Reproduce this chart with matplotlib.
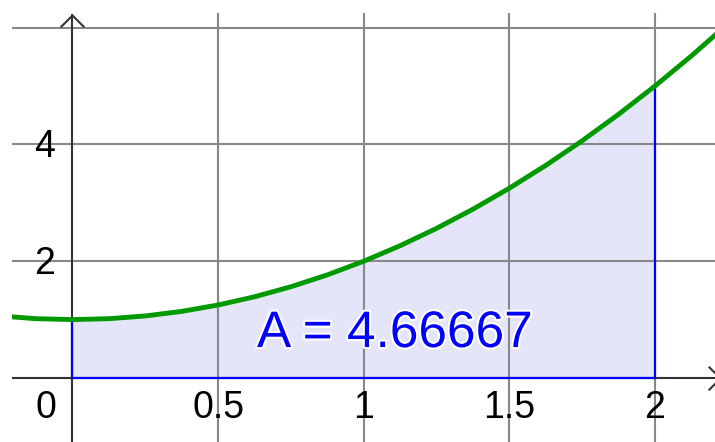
import numpy as np
import matplotlib
matplotlib.use("Agg")
import matplotlib.pyplot as plt
import matplotlib.patheffects as pe
from matplotlib.path import Path
from matplotlib.transforms import offset_copy

# curve y = x^2 + 1
xs = [-0.25, -0.125, 0, 0.125, 0.25, 0.375, 0.5, 0.625, 0.75, 0.875, 1.0,
      1.125, 1.25, 1.375, 1.5, 1.625, 1.75, 1.875, 2.0, 2.125, 2.25]
ys = [1.0625, 1.0156, 1.0, 1.0156, 1.0625, 1.1406, 1.25, 1.3906, 1.5625,
      1.7656, 2.0, 2.2656, 2.5625, 2.8906, 3.25, 3.6406, 4.0625, 4.5156,
      5.0, 5.5156, 6.0625]
area_from, area_to = 0.0, 2.0
area_label = "A = 4.66667"

x_ticks = [0.5, 1, 1.5, 2]
x_tick_labels = ["0.5", "1", "1.5", "2"]
y_ticks = [2, 4]
y_tick_labels = ["2", "4"]
x_grid = [0.5, 1, 1.5, 2]
y_grid = [2, 4, 6]

plt.rcParams['font.family'] = ['Liberation Sans', 'DejaVu Sans']

fig = plt.figure(figsize=(7.15, 4.42), dpi=100)
ax = fig.add_axes([12 / 715, 0, 703 / 715, 429 / 442])
ax.set_xlim(-0.2077, 2.206)
ax.set_ylim(-1.096, 6.25)
ax.axis('off')

grid_col = '#888888'
axis_col = '#333333'
for gx in x_grid:
    ax.axvline(gx, color=grid_col, lw=1.5, zorder=1)
for gy in y_grid:
    ax.axhline(gy, color=grid_col, lw=1.5, zorder=1)

# axes with open arrow heads
y_tip = 6.216
x_tip = 2.223
ax.axhline(0, color=axis_col, lw=1.5, zorder=2)
ax.plot([0, 0], [-1.2, y_tip], color=axis_col, lw=1.5, zorder=2, clip_on=False)
up = Path([(-1, -1), (0, 0), (1, -1)], [Path.MOVETO, Path.LINETO, Path.LINETO])
right = Path([(-1, 1), (0, 0), (-1, -1)], [Path.MOVETO, Path.LINETO, Path.LINETO])
ax.plot([0], [y_tip], marker=up, ms=17, mfc='none', mec=axis_col, mew=1.5,
        clip_on=False, zorder=2)
ax.plot([x_tip], [0], marker=right, ms=17, mfc='none', mec=axis_col, mew=1.5,
        clip_on=False, zorder=2)

# shaded area under the curve
xa = np.array(xs)
ya = np.array(ys)
m = (xa >= area_from) & (xa <= area_to)
ax.fill_between(xa[m], 0, ya[m], color='#e5e5fa', zorder=0.5, lw=0)
ax.plot([area_from, area_from], [0, ya[m][0]], color='#0000ff', lw=1.6, zorder=3)
ax.plot([area_to, area_to], [0, ya[m][-1]], color='#0000ff', lw=1.6, zorder=3)
ax.plot([area_from, area_to], [0, 0], color='#0000ff', lw=1.6, zorder=3)

ax.plot(xs, ys, color='#009900', lw=3.5, zorder=4, solid_joinstyle='round')

# tick labels
below = offset_copy(ax.transData, fig=fig, x=0, y=-30, units='dots')
for t, lab in zip(x_ticks, x_tick_labels):
    ax.text(t, 0, lab, transform=below, ha='center', va='center', fontsize=27)
left = offset_copy(ax.transData, fig=fig, x=-17, y=-3, units='dots')
for t, lab in zip(y_ticks, y_tick_labels):
    ax.text(0, t, lab, transform=left, ha='right', va='center', fontsize=27)
origin = offset_copy(ax.transData, fig=fig, x=-27, y=-30, units='dots')
ax.text(0, 0, "0", transform=origin, ha='center', va='center', fontsize=27)

ax.text(1.107, 0.53, area_label, color='#0000ff', fontsize=37, ha='center',
        va='baseline', zorder=5,
        path_effects=[pe.withStroke(linewidth=3, foreground='white')])

fig.savefig("out.png", dpi=100)
